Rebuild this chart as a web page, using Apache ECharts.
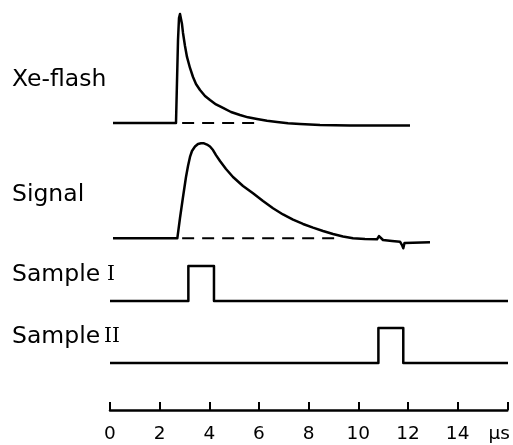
<!DOCTYPE html>
<html><head><meta charset="utf-8">
<script src="https://cdn.jsdelivr.net/npm/echarts@6/dist/echarts.min.js"></script>
<style>html,body{margin:0;padding:0;background:#fff}#c{width:513px;height:445px}</style>
</head><body><div id="c"></div>
<script>
// time axis in microseconds
const tickLabels = ['0','2','4','6','8','10','12','14','µs'];
const traceNames = ['Xe-flash', 'Signal', 'Sample', 'Sample'];
const romanNums = ['', '', 'I', 'II'];

// Xe-flash trace (normalised intensity)
const xeT = [0.12, 2.653, 2.734, 2.774, 2.814, 2.854, 2.894, 2.935, 3.015, 3.095, 3.216, 3.337, 3.457, 3.618, 3.819, 4.020, 4.261, 4.543, 4.864, 5.226, 5.548, 5.910, 6.312, 6.714, 7.156, 7.638, 8.442, 9.648, 12.06];
const xeV = [0, 0, 0.761, 0.963, 1.0, 0.982, 0.908, 0.826, 0.706, 0.606, 0.505, 0.422, 0.358, 0.303, 0.248, 0.211, 0.170, 0.138, 0.101, 0.073, 0.052, 0.037, 0.020, 0.009, -0.002, -0.009, -0.018, -0.023, -0.023];
const xeDash = [[2.9, 0], [5.9, 0]];

// Signal trace (normalised)
const sigT = [0.121, 2.706, 2.814, 2.935, 3.055, 3.136, 3.216, 3.296, 3.417, 3.538, 3.658, 3.779, 3.899, 4.020, 4.141, 4.261, 4.422, 4.663, 4.945, 5.347, 5.749, 6.151, 6.553, 6.955, 7.357, 7.759, 8.161, 8.563, 8.965, 9.367, 9.769, 10.251, 10.734, 10.814, 10.854, 10.894, 10.975, 11.337, 11.658, 11.739, 11.791, 11.839, 11.899, 12.864];
const sigV = [0, 0, 0.214, 0.435, 0.645, 0.761, 0.856, 0.919, 0.966, 0.993, 1.0, 1.0, 0.987, 0.966, 0.929, 0.876, 0.814, 0.730, 0.645, 0.551, 0.474, 0.393, 0.316, 0.251, 0.196, 0.151, 0.112, 0.077, 0.045, 0.019, 0, -0.007, -0.011, 0.024, 0.035, 0.003, -0.018, -0.028, -0.036, -0.071, -0.105, -0.049, -0.042, -0.042];
const sigDash = [[2.9, 0], [9.1, 0]];

// Sampling gates (on/off)
const s1T = [0, 3.15, 3.15, 4.18, 4.18, 16];
const s1V = [0, 0, 1, 1, 0, 0];
const s2T = [0, 10.79, 10.79, 11.79, 11.79, 16];
const s2V = [0, 0, 1, 1, 0, 0];

const zip = (a, b) => a.map((t, i) => [t, b[i]]);

const chart = echarts.init(document.getElementById('c'), null, {renderer: 'canvas'});
const L = 110, R = 5;
const grids = [
  {left: L, right: R, top: 14, height: 109},
  {left: L, right: R, top: 143.3, height: 95},
  {left: L, right: R, top: 266, height: 35},
  {left: L, right: R, top: 328, height: 35},
  {left: L, right: R, top: 400, height: 10}
];
const hiddenX = i => ({gridIndex: i, type: 'value', min: 0, max: 16, show: false});
const hiddenY = i => ({gridIndex: i, type: 'value', min: 0, max: 1, show: false});
const W = 2.5;
const lineStyle = {color: '#000', width: W, join: 'round'};
const labelYs = [80, 195, 274.5, 337];
const numeralX = [0, 0, 107, 104];

const graphics = [];
labelYs.forEach((y, i) => {
  graphics.push({
    type: 'text', x: 12, y: y,
    style: {text: traceNames[i], fontFamily: 'DejaVu Sans', fontSize: 23.5, fill: '#000', verticalAlign: 'middle'}
  });
  if (romanNums[i]) {
    graphics.push({
      type: 'text', x: numeralX[i], y: y,
      style: {text: romanNums[i], fontFamily: 'DejaVu Serif', fontSize: 20, fill: '#000', verticalAlign: 'middle'}
    });
  }
});

chart.setOption({
  animation: false,
  backgroundColor: '#fff',
  grid: grids,
  xAxis: [hiddenX(0), hiddenX(1), hiddenX(2), hiddenX(3), {
    gridIndex: 4, type: 'value', min: 0, max: 16, interval: 2,
    axisLine: {show: true, lineStyle: {color: '#000', width: W}},
    axisTick: {show: true, inside: true, length: 8, lineStyle: {color: '#000', width: 2}},
    splitLine: {show: false},
    axisLabel: {
      margin: 15, color: '#000', fontFamily: 'DejaVu Sans', fontSize: 18.5,
      formatter: v => {
        const s = tickLabels[Math.round(v / 2)];
        return v === 16 ? '{u|' + s + '}' : s;
      },
      rich: {u: {fontFamily: 'DejaVu Sans', fontSize: 18.5, color: '#000', padding: [0, 16, 0, 0]}}
    }
  }],
  yAxis: [hiddenY(0), hiddenY(1), hiddenY(2), hiddenY(3), hiddenY(4)],
  series: [
    {type: 'line', xAxisIndex: 0, yAxisIndex: 0, data: zip(xeT, xeV), showSymbol: false, clip: false, lineStyle},
    {type: 'line', xAxisIndex: 0, yAxisIndex: 0, data: xeDash, showSymbol: false, clip: false, lineStyle: {color: '#000', width: 2, type: [12, 8]}},
    {type: 'line', xAxisIndex: 1, yAxisIndex: 1, data: zip(sigT, sigV), showSymbol: false, clip: false, lineStyle},
    {type: 'line', xAxisIndex: 1, yAxisIndex: 1, data: sigDash, showSymbol: false, clip: false, lineStyle: {color: '#000', width: 2, type: [12, 8]}},
    {type: 'line', xAxisIndex: 2, yAxisIndex: 2, data: zip(s1T, s1V), showSymbol: false, clip: false, lineStyle},
    {type: 'line', xAxisIndex: 3, yAxisIndex: 3, data: zip(s2T, s2V), showSymbol: false, clip: false, lineStyle}
  ],
  graphic: graphics
});
</script></body></html>
